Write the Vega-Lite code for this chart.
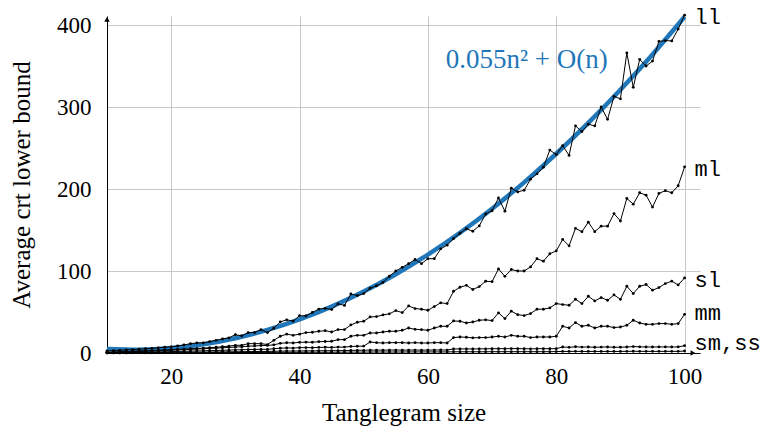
{
  "$schema": "https://vega.github.io/schema/vega-lite/v6.json",
  "width": 593,
  "height": 337,
  "autosize": {"type": "none"},
  "padding": {"left": 107, "top": 16, "right": 64, "bottom": 73},
  "background": "white",
  "config": {
    "view": {"stroke": null},
    "axis": {
      "labelFont": "Liberation Serif, Times New Roman, serif",
      "labelFontSize": 23,
      "labelColor": "black",
      "labelFlush": false,
      "titleFont": "Liberation Serif, Times New Roman, serif",
      "titleFontSize": 25,
      "titleFontWeight": "normal",
      "titleColor": "black",
      "gridColor": "#c8c8c8",
      "gridWidth": 1,
      "domainColor": "black",
      "domainWidth": 1,
      "ticks": false
    }
  },
  "datasets": {
    "series": [
      {"n": 10, "ll": 2.5, "ml": 1, "sl": 0.8, "mm": 0.3, "sm": 0.2, "ss": 0.1},
      {"n": 11, "ll": 3, "ml": 1.2, "sl": 1, "mm": 0.4, "sm": 0.2, "ss": 0.1},
      {"n": 12, "ll": 3.3, "ml": 1.5, "sl": 1.2, "mm": 0.5, "sm": 0.3, "ss": 0.1},
      {"n": 13, "ll": 3.8, "ml": 1.8, "sl": 1.4, "mm": 0.6, "sm": 0.3, "ss": 0.1},
      {"n": 14, "ll": 4.2, "ml": 2.1, "sl": 1.7, "mm": 0.8, "sm": 0.4, "ss": 0.2},
      {"n": 15, "ll": 4.6, "ml": 2.4, "sl": 2, "mm": 0.9, "sm": 0.5, "ss": 0.2},
      {"n": 16, "ll": 5.2, "ml": 2.7, "sl": 2.2, "mm": 1, "sm": 0.5, "ss": 0.2},
      {"n": 17, "ll": 5.7, "ml": 3, "sl": 2.5, "mm": 1.2, "sm": 0.6, "ss": 0.2},
      {"n": 18, "ll": 6.3, "ml": 3.3, "sl": 2.8, "mm": 1.4, "sm": 0.7, "ss": 0.3},
      {"n": 19, "ll": 7, "ml": 3.7, "sl": 3.1, "mm": 1.5, "sm": 0.7, "ss": 0.3},
      {"n": 20, "ll": 7.5, "ml": 4, "sl": 3.4, "mm": 1.7, "sm": 0.8, "ss": 0.3},
      {"n": 21, "ll": 8.5, "ml": 4.4, "sl": 3.7, "mm": 1.9, "sm": 0.9, "ss": 0.3},
      {"n": 22, "ll": 9.8, "ml": 4.8, "sl": 4, "mm": 2.1, "sm": 0.9, "ss": 0.4},
      {"n": 23, "ll": 11.4, "ml": 5.2, "sl": 4.4, "mm": 2.3, "sm": 1, "ss": 0.4},
      {"n": 24, "ll": 12.3, "ml": 5.6, "sl": 4.8, "mm": 2.5, "sm": 1.1, "ss": 0.4},
      {"n": 25, "ll": 12.3, "ml": 6, "sl": 5.2, "mm": 2.7, "sm": 1.1, "ss": 0.4},
      {"n": 26, "ll": 13.9, "ml": 6.5, "sl": 5.6, "mm": 2.9, "sm": 1.2, "ss": 0.5},
      {"n": 27, "ll": 15.5, "ml": 7, "sl": 6, "mm": 3.1, "sm": 1.3, "ss": 0.5},
      {"n": 28, "ll": 17.2, "ml": 7.6, "sl": 6.4, "mm": 3.3, "sm": 1.4, "ss": 0.5},
      {"n": 29, "ll": 18.4, "ml": 8.4, "sl": 6.8, "mm": 3.5, "sm": 1.4, "ss": 0.5},
      {"n": 30, "ll": 22.4, "ml": 9.4, "sl": 7.3, "mm": 3.8, "sm": 1.5, "ss": 0.6},
      {"n": 31, "ll": 20.8, "ml": 9.4, "sl": 7.6, "mm": 3.9, "sm": 1.6, "ss": 0.6},
      {"n": 32, "ll": 24.9, "ml": 11.4, "sl": 8.3, "mm": 4.2, "sm": 1.7, "ss": 0.6},
      {"n": 33, "ll": 24.9, "ml": 11.4, "sl": 8.6, "mm": 4.3, "sm": 1.8, "ss": 0.6},
      {"n": 34, "ll": 28.6, "ml": 11.4, "sl": 9, "mm": 4.5, "sm": 1.9, "ss": 0.7},
      {"n": 35, "ll": 24.9, "ml": 10.3, "sl": 9.2, "mm": 4.5, "sm": 1.9, "ss": 0.7},
      {"n": 36, "ll": 30.2, "ml": 15.5, "sl": 10, "mm": 5.2, "sm": 2.1, "ss": 0.7},
      {"n": 37, "ll": 37.9, "ml": 20.4, "sl": 11.8, "mm": 5.8, "sm": 2.3, "ss": 0.8},
      {"n": 38, "ll": 40.5, "ml": 23, "sl": 12.5, "mm": 6.2, "sm": 2.4, "ss": 0.8},
      {"n": 39, "ll": 38.9, "ml": 21.6, "sl": 12.2, "mm": 6, "sm": 2.4, "ss": 0.8},
      {"n": 40, "ll": 45.5, "ml": 23, "sl": 13, "mm": 6.5, "sm": 2.5, "ss": 0.8},
      {"n": 41, "ll": 45.2, "ml": 24.9, "sl": 13.2, "mm": 6.6, "sm": 2.6, "ss": 0.9},
      {"n": 42, "ll": 49.5, "ml": 25.3, "sl": 13.1, "mm": 6.5, "sm": 2.6, "ss": 0.9},
      {"n": 43, "ll": 53.5, "ml": 26.5, "sl": 13.8, "mm": 6.8, "sm": 2.7, "ss": 0.9},
      {"n": 44, "ll": 54.5, "ml": 27.2, "sl": 14, "mm": 7, "sm": 2.8, "ss": 0.9},
      {"n": 45, "ll": 53, "ml": 25.6, "sl": 14.3, "mm": 6.8, "sm": 2.8, "ss": 0.9},
      {"n": 46, "ll": 60, "ml": 28.6, "sl": 16.3, "mm": 7.2, "sm": 2.9, "ss": 1},
      {"n": 47, "ll": 58, "ml": 28.6, "sl": 16.3, "mm": 7.2, "sm": 2.9, "ss": 1},
      {"n": 48, "ll": 72, "ml": 34.2, "sl": 20.4, "mm": 8, "sm": 3.2, "ss": 1.1},
      {"n": 49, "ll": 70, "ml": 37.5, "sl": 21.6, "mm": 8.2, "sm": 3.3, "ss": 1.1},
      {"n": 50, "ll": 72.5, "ml": 38.7, "sl": 21.6, "mm": 8.4, "sm": 3.3, "ss": 1.1},
      {"n": 51, "ll": 79, "ml": 44, "sl": 24.4, "mm": 13.4, "sm": 3.6, "ss": 1.2},
      {"n": 52, "ll": 82, "ml": 44.4, "sl": 24.4, "mm": 12.6, "sm": 3.5, "ss": 1.2},
      {"n": 53, "ll": 86, "ml": 46.4, "sl": 25.6, "mm": 12.2, "sm": 3.5, "ss": 1.2},
      {"n": 54, "ll": 93.6, "ml": 47.8, "sl": 26.5, "mm": 12.6, "sm": 3.6, "ss": 1.2},
      {"n": 55, "ll": 100, "ml": 51.7, "sl": 26.5, "mm": 12.6, "sm": 3.6, "ss": 1.2},
      {"n": 56, "ll": 104.5, "ml": 49.3, "sl": 27.7, "mm": 12.6, "sm": 3.5, "ss": 1.2},
      {"n": 57, "ll": 109, "ml": 57.4, "sl": 30.5, "mm": 12.2, "sm": 3.6, "ss": 1.3},
      {"n": 58, "ll": 114, "ml": 54.2, "sl": 28.9, "mm": 12.6, "sm": 3.6, "ss": 1.3},
      {"n": 59, "ll": 109, "ml": 53.4, "sl": 28.5, "mm": 12.2, "sm": 3.5, "ss": 1.3},
      {"n": 60, "ll": 115, "ml": 52.1, "sl": 27.7, "mm": 12.2, "sm": 3.6, "ss": 1.3},
      {"n": 61, "ll": 115, "ml": 56.6, "sl": 30.5, "mm": 12.6, "sm": 3.6, "ss": 1.3},
      {"n": 62, "ll": 127, "ml": 61.2, "sl": 32.6, "mm": 12.6, "sm": 3.7, "ss": 1.3},
      {"n": 63, "ll": 131.5, "ml": 60.3, "sl": 32.6, "mm": 12.2, "sm": 3.6, "ss": 1.3},
      {"n": 64, "ll": 139.5, "ml": 75.3, "sl": 39.1, "mm": 18.8, "sm": 4.9, "ss": 1.5},
      {"n": 65, "ll": 146, "ml": 80.2, "sl": 38.7, "mm": 19.5, "sm": 5, "ss": 1.5},
      {"n": 66, "ll": 151.5, "ml": 82.5, "sl": 36.6, "mm": 19.2, "sm": 5, "ss": 1.5},
      {"n": 67, "ll": 148.5, "ml": 77.4, "sl": 37.8, "mm": 18.5, "sm": 4.9, "ss": 1.5},
      {"n": 68, "ll": 155, "ml": 81, "sl": 39.9, "mm": 18.8, "sm": 5.1, "ss": 1.5},
      {"n": 69, "ll": 169.5, "ml": 87.5, "sl": 40.5, "mm": 18.8, "sm": 5.1, "ss": 1.5},
      {"n": 70, "ll": 173.5, "ml": 87, "sl": 39.5, "mm": 19.5, "sm": 5.2, "ss": 1.6},
      {"n": 71, "ll": 189, "ml": 102.5, "sl": 49, "mm": 20.4, "sm": 5.3, "ss": 1.6},
      {"n": 72, "ll": 173, "ml": 93.5, "sl": 42, "mm": 19.5, "sm": 5.2, "ss": 1.6},
      {"n": 73, "ll": 201, "ml": 101.8, "sl": 51, "mm": 21.6, "sm": 5.4, "ss": 1.6},
      {"n": 74, "ll": 196.5, "ml": 100, "sl": 46.8, "mm": 20.4, "sm": 5.3, "ss": 1.6},
      {"n": 75, "ll": 198.5, "ml": 100, "sl": 45.6, "mm": 20.4, "sm": 5.2, "ss": 1.6},
      {"n": 76, "ll": 212, "ml": 105, "sl": 48.1, "mm": 18.8, "sm": 5.1, "ss": 1.6},
      {"n": 77, "ll": 218.5, "ml": 115, "sl": 53.4, "mm": 19.5, "sm": 5.2, "ss": 1.6},
      {"n": 78, "ll": 226.5, "ml": 112, "sl": 53.4, "mm": 19.5, "sm": 5.3, "ss": 1.6},
      {"n": 79, "ll": 247.5, "ml": 121, "sl": 55, "mm": 19.5, "sm": 5.2, "ss": 1.6},
      {"n": 80, "ll": 242, "ml": 124.5, "sl": 60.3, "mm": 20.4, "sm": 5.3, "ss": 1.7},
      {"n": 81, "ll": 253, "ml": 138.5, "sl": 59.1, "mm": 32.6, "sm": 7.3, "ss": 1.9},
      {"n": 82, "ll": 241, "ml": 130.7, "sl": 58.2, "mm": 30.5, "sm": 6.9, "ss": 1.9},
      {"n": 83, "ll": 277, "ml": 152, "sl": 65.6, "mm": 37.1, "sm": 7.6, "ss": 2},
      {"n": 84, "ll": 270, "ml": 148, "sl": 60.3, "mm": 32.6, "sm": 7.2, "ss": 1.9},
      {"n": 85, "ll": 279, "ml": 159.6, "sl": 69.2, "mm": 33.8, "sm": 7.3, "ss": 1.9},
      {"n": 86, "ll": 277, "ml": 148, "sl": 63.5, "mm": 30.5, "sm": 7, "ss": 1.9},
      {"n": 87, "ll": 300, "ml": 154.7, "sl": 67.6, "mm": 32.6, "sm": 7.2, "ss": 1.9},
      {"n": 88, "ll": 285, "ml": 154.7, "sl": 64.3, "mm": 32.6, "sm": 7.3, "ss": 1.9},
      {"n": 89, "ll": 313, "ml": 170, "sl": 70.8, "mm": 31, "sm": 7, "ss": 1.9},
      {"n": 90, "ll": 310, "ml": 161, "sl": 65.5, "mm": 31.7, "sm": 7.1, "ss": 1.9},
      {"n": 91, "ll": 366, "ml": 188.5, "sl": 81.4, "mm": 33.8, "sm": 7.3, "ss": 2},
      {"n": 92, "ll": 324, "ml": 181.5, "sl": 72.5, "mm": 39.9, "sm": 7.8, "ss": 2.1},
      {"n": 93, "ll": 358, "ml": 195.4, "sl": 81.4, "mm": 36.6, "sm": 7.5, "ss": 2},
      {"n": 94, "ll": 350, "ml": 192.5, "sl": 83.5, "mm": 35, "sm": 7.3, "ss": 2},
      {"n": 95, "ll": 356, "ml": 178, "sl": 76.6, "mm": 35, "sm": 7.3, "ss": 2},
      {"n": 96, "ll": 380, "ml": 194.6, "sl": 79.8, "mm": 35.9, "sm": 7.4, "ss": 2},
      {"n": 97, "ll": 381, "ml": 198, "sl": 84.7, "mm": 35.9, "sm": 7.4, "ss": 2},
      {"n": 98, "ll": 380.6, "ml": 195.4, "sl": 87.6, "mm": 35, "sm": 7.3, "ss": 2},
      {"n": 99, "ll": 395, "ml": 204, "sl": 83, "mm": 35.9, "sm": 7.4, "ss": 2},
      {"n": 100, "ll": 412, "ml": 227, "sl": 91.6, "mm": 47.2, "sm": 8.9, "ss": 2.4}
    ],
    "fit": [
      {"n": 10, "v": 5}, {"n": 15, "v": 4.1}, {"n": 20, "v": 6}, {"n": 25, "v": 10.6},
      {"n": 30, "v": 18}, {"n": 35, "v": 28.1}, {"n": 40, "v": 41}, {"n": 45, "v": 56.6},
      {"n": 50, "v": 75}, {"n": 55, "v": 96.1}, {"n": 60, "v": 120}, {"n": 65, "v": 146.6},
      {"n": 70, "v": 176}, {"n": 75, "v": 208.1}, {"n": 80, "v": 243}, {"n": 85, "v": 280.6},
      {"n": 90, "v": 321}, {"n": 95, "v": 364.1}, {"n": 100, "v": 410}
    ],
    "labels": [
      {"n": 100, "v": 401, "label": "ll"},
      {"n": 100, "v": 216, "label": "ml"},
      {"n": 100, "v": 81, "label": "sl"},
      {"n": 100, "v": 40, "label": "mm"},
      {"n": 100, "v": 3.7, "label": "sm,ss"}
    ],
    "note": [
      {"n": 75.4, "v": 357, "label": "0.055n² + O(n)"}
    ],
    "arrows": [
      {"n": 10, "v": 407, "shape": "triangle-up"},
      {"n": 101.3, "v": 0, "shape": "triangle-right"}
    ]
  },
  "encoding": {
    "x": {
      "field": "n",
      "type": "quantitative",
      "scale": {"domain": [10, 102.4], "nice": false, "zero": false},
      "axis": {"values": [20, 40, 60, 80, 100], "title": "Tanglegram size", "labelPadding": 12, "titlePadding": 12}
    },
    "y": {
      "field": "v",
      "type": "quantitative",
      "scale": {"domain": [0, 411], "nice": false},
      "axis": {"values": [0, 100, 200, 300, 400], "title": "Average crt lower bound", "labelPadding": 16, "titlePadding": 22}
    }
  },
  "layer": [
    {
      "data": {"name": "fit"},
      "mark": {"type": "line", "color": "#1f77b9", "strokeWidth": 4.5, "interpolate": "monotone"}
    },
    {
      "data": {"name": "series"},
      "transform": [{"fold": ["ll", "ml", "sl", "mm", "sm", "ss"], "as": ["s", "v"]}],
      "mark": {"type": "line", "color": "black", "strokeWidth": 1, "point": {"filled": true, "size": 8, "color": "black"}},
      "encoding": {"detail": {"field": "s", "type": "nominal"}}
    },
    {
      "data": {"name": "labels"},
      "mark": {"type": "text", "font": "Liberation Mono, Courier New, monospace", "fontSize": 22, "align": "left", "baseline": "alphabetic", "dx": 10, "color": "black"},
      "encoding": {"text": {"field": "label"}}
    },
    {
      "data": {"name": "note"},
      "mark": {"type": "text", "font": "Liberation Serif, Times New Roman, serif", "fontSize": 27, "align": "center", "baseline": "middle", "color": "#1f77b9"},
      "encoding": {"text": {"field": "label"}}
    },
    {
      "data": {"name": "arrows"},
      "mark": {"type": "point", "filled": true, "color": "black", "size": 30, "opacity": 1},
      "encoding": {"shape": {"field": "shape", "type": "nominal", "scale": null}}
    }
  ]
}
